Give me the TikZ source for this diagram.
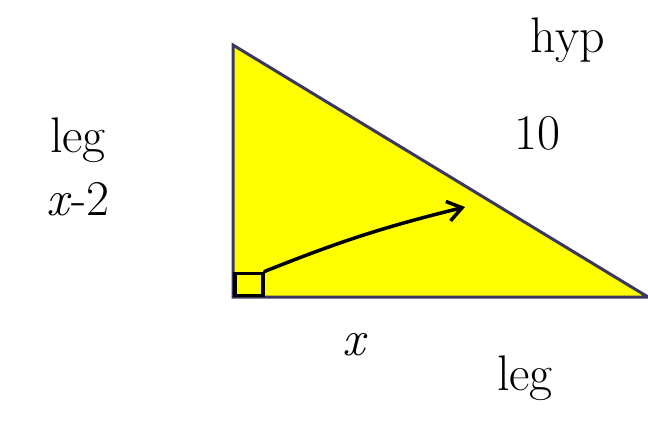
\documentclass[tikz,border=0pt]{standalone}
\usepackage{amsmath,amssymb}
\usetikzlibrary{arrows.meta,positioning}

\definecolor{edgeblue}{RGB}{58,56,96}
\definecolor{fillyellow}{RGB}{255,255,0}

\begin{document}
\begin{tikzpicture}[x=1pt, y=-1pt, >={Straight Barb[length=5mm,width=7mm]},
	every node/.style={font=\fontsize{50}{56}\selectfont, inner sep=2pt}]
	\useasboundingbox (0,0) rectangle (648,423);
	\coordinate (top) at (233,45);
	\coordinate (corner) at (233,297);
	\coordinate (right) at (648,297);
	\fill[fillyellow] (top) -- (corner) -- (right) -- cycle;
	\draw[edgeblue, line width=3pt] (top) -- (corner) -- (right) -- cycle;
	% right angle box and arrow
	\node[draw, line width=3.5pt, minimum width=28pt, minimum height=22pt, inner sep=0pt, anchor=south west] (box) at (corner) {};
	\coordinate (tip) at (465,207);
	\draw[->, line width=3.5pt, line cap=round] (box.north east) to[bend left=4] (tip);
	% labels
	\node (legleft) at (78,140) {leg};
	\node[below=16pt of legleft] (side) {\textit{x}-2};
	\node (hyp) at (568,40) {hyp};
	\node (ten) at (537,133) {10};
	\node (base) at (355,345) {\textit{x}};
	\node (legbase) at (525,378) {leg};
\end{tikzpicture}
\end{document}
